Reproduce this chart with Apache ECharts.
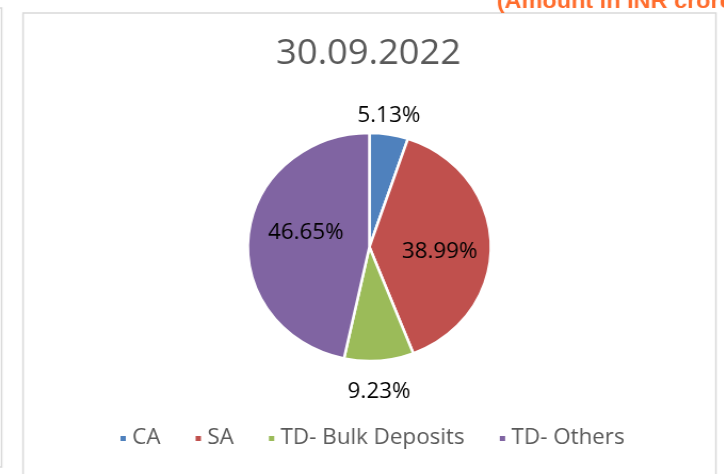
<!DOCTYPE html>
<html>
<head>
<meta charset="utf-8">
<script src="https://cdn.jsdelivr.net/npm/echarts@6/dist/echarts.min.js"></script>
<style>
  html, body { margin: 0; padding: 0; background: #fff; overflow: hidden; }
  /* the source picture is stretched a little horizontally, so stretch the canvas too */
  #deposit_mix { width: 679px; height: 474px; transform: scaleX(1.066); transform-origin: 0 0; }
</style>
</head>
<body>
<div id="deposit_mix"></div>
<script>
var categories = ['CA', 'SA', 'TD- Bulk Deposits', 'TD- Others']
var shares = [5.13, 38.99, 9.23, 46.65]
var colorList = ['#4f81bd', '#c0504d', '#9bbb59', '#8064a2']
// Excel "best fit": small slices get the label outside, big ones inside
var labelPlace = ['outside', 'inside', 'outside', 'inside']
// small nudges of the inside labels, as Excel placed them
var labelNudge = [[0, 0], [6, 6], [0, 0], [0, -8]]

var seriesData = []
for (var i = 0; i < categories.length; i++) {
  seriesData.push({
    name: categories[i],
    value: shares[i],
    itemStyle: { color: colorList[i] },
    label: { position: labelPlace[i] }
  })
}

var chart = echarts.init(document.getElementById('deposit_mix'))
chart.setOption({
  animation: false,
  title: {
    text: '30.09.2022',
    left: 254,
    top: 32,
    textStyle: { fontFamily: 'Open Sans', fontSize: 34, fontWeight: 'normal', color: '#595959' }
  },
  legend: {
    data: categories,
    bottom: 20,
    left: 106,
    icon: 'rect',
    itemWidth: 7,
    itemHeight: 7,
    itemGap: 31,
    textStyle: { fontFamily: 'Open Sans', fontSize: 21, color: '#595959' }
  },
  graphic: [
    {
      type: 'rect',
      shape: { x: 21.6, y: 13, width: 650, height: 480 },
      style: { fill: null, stroke: '#d9d9d9', lineWidth: 1.5 }
    },
    {
      type: 'rect',
      shape: { x: -20, y: 8, width: 21.5, height: 459 },
      style: { fill: null, stroke: '#d9d9d9', lineWidth: 1.5 }
    },
    {
      type: 'text',
      left: 466,
      top: -9,
      style: { text: '(Amount in INR crores)', fill: '#ff6d2d', font: 'bold 22px Arial' }
    }
  ],
  series: [{
    type: 'pie',
    center: [346.5, 247],
    radius: ['0%', 114],
    startAngle: 90,
    clockwise: true,
    data: seriesData,
    itemStyle: { borderColor: '#fff', borderWidth: 2.5 },
    label: {
      formatter: function(p) { return p.value.toFixed(2) + '%' },
      fontFamily: 'Open Sans',
      fontSize: 21,
      color: '#000'
    },
    labelLine: { show: true, length: 4, length2: 0, lineStyle: { opacity: 0 } },
    labelLayout: function(p) {
      if (labelPlace[p.dataIndex] === 'inside' || !p.labelLinePoints) {
        return { dx: labelNudge[p.dataIndex][0], dy: labelNudge[p.dataIndex][1] }
      }
      var pt = p.labelLinePoints[0]
      var below = pt[1] > 247
      return {
        x: pt[0],
        y: below ? pt[1] + 21 : pt[1] - 8,
        align: 'center',
        verticalAlign: below ? 'top' : 'bottom'
      }
    }
  }]
})
</script>
</body>
</html>
